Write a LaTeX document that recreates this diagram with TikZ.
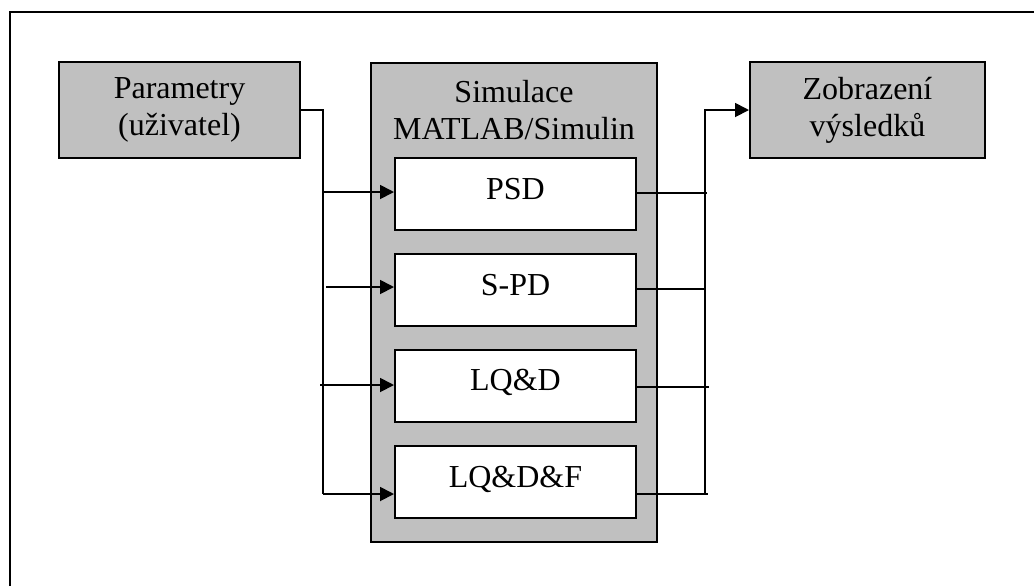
\documentclass[tikz,border=0pt]{standalone}
\usepackage{fontspec}
\setmainfont{Liberation Serif}
\usetikzlibrary{arrows.meta}
\definecolor{boxgray}{RGB}{192,192,192}

\begin{document}
\begin{tikzpicture}[x=0.5pt, y=-0.5pt, >={Triangle[length=7pt,width=7pt]},
    font=\fontsize{16}{18.5}\selectfont,
    graybox/.style={draw, line width=1pt, fill=boxgray, align=center, minimum width=120.5pt, minimum height=48pt, inner sep=0pt},
    simbox/.style={draw, line width=1pt, fill=white, minimum width=120.5pt, minimum height=36pt, inner ysep=0pt, text height=20.5pt, text depth=15.5pt},
    wire/.style={line width=0.9pt}]
    \useasboundingbox (0,0) rectangle (1034,586);
    % Frame
    \draw [line width=1pt] (10,586) -- (10,12) -- (1034,12);

    % Nodes {param, sim, zobr, psd, spd, lqd, lqdf}
    \node [graybox] 	(param) 	at (179.5,110) 	{Parametry\\(uživatel)};
    \node [graybox, minimum width=143pt, minimum height=239.5pt, anchor=north]	(sim) 	at (514,62) 	{};
    \node [align=center] 	(simtext) 	at (514,110) 	{Simulace\\MATLAB/Simulin};
    \node [graybox, minimum width=117.5pt] 	(zobr) 	at (867.5,110) 	{Zobrazení\\výsledků};
    \node [simbox] 	(psd) 	at (515.5,194) 	{PSD};
    \node [simbox] 	(spd) 	at (515.5,290) 	{S-PD};
    \node [simbox] 	(lqd) 	at (515.5,385.5) 	{LQ\&D};
    \node [simbox] 	(lqdf) 	at (515.5,482) 	{LQ\&D\&F};

    % Bus points
    \coordinate (la) at (324,192);
    \coordinate (lb) at (326,287);
    \coordinate (lc) at (320,385);
    \coordinate (ld) at (323,494);
    \coordinate (ra) at (707,193);
    \coordinate (rb) at (705,289);
    \coordinate (rc) at (709,387);
    \coordinate (rd) at (708,494);
    \coordinate (rbus) at (705,494);

    % Paths
    \draw [wire] 	(param.east) -| (ld);
    \draw [wire, ->] 	(la) -- (la -| psd.west);
    \draw [wire, ->] 	(lb) -- (lb -| spd.west);
    \draw [wire, ->] 	(lc) -- (lc -| lqd.west);
    \draw [wire, ->] 	(ld) -- (ld -| lqdf.west);
    \draw [wire] 	(ra -| psd.east) -- (ra);
    \draw [wire] 	(rb -| spd.east) -- (rb);
    \draw [wire] 	(rc -| lqd.east) -- (rc);
    \draw [wire] 	(rd -| lqdf.east) -- (rd);
    \draw [wire, ->] 	(rbus) |- (zobr.west);
\end{tikzpicture}
\end{document}
